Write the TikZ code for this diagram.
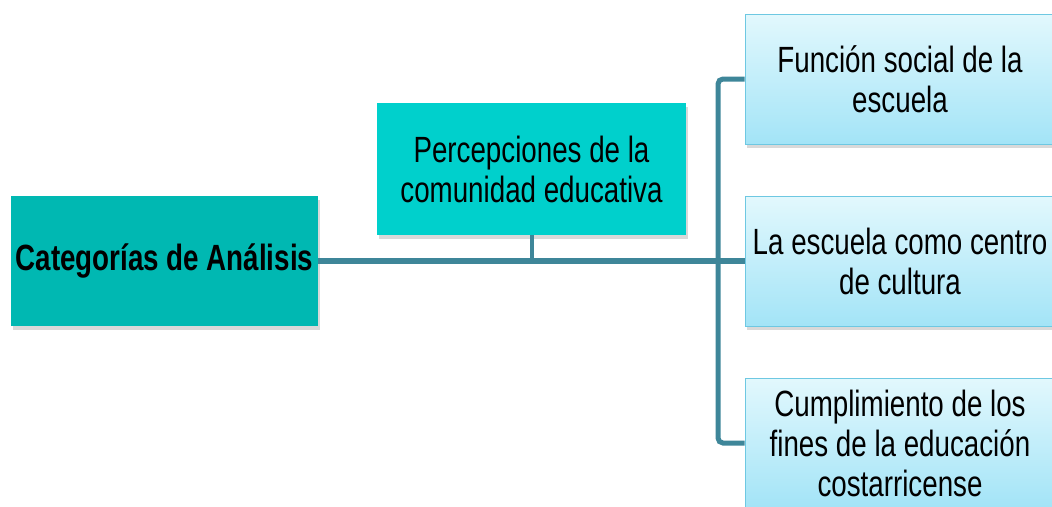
\documentclass[tikz,border=0pt]{standalone}
\usepackage{fontspec}
\setmainfont{Liberation Sans}[FakeStretch=0.76]
\usepackage{xcolor}
\usetikzlibrary{positioning,shadows}

\definecolor{tealdark}{RGB}{0,184,178}
\definecolor{tealbright}{RGB}{0,208,204}
\definecolor{skytop}{RGB}{226,248,253}
\definecolor{skybottom}{RGB}{163,228,247}
\definecolor{skyline}{RGB}{110,200,226}
\definecolor{busblue}{RGB}{62,134,153}

\begin{document}
\begin{tikzpicture}[
        x = 1pt,
        y = -1pt,
        node distance = 182pt,
        box/.style = {rectangle, inner sep=0pt, align=center,
            font=\fontsize{36.5}{40}\selectfont,
            drop shadow={shadow xshift=2pt, shadow yshift=-4pt, opacity=0.3}},
        catbox/.style = {box, fill=tealdark, minimum width=307pt, minimum height=130pt,
            font=\fontsize{36.5}{40}\selectfont\bfseries},
        percbox/.style = {box, fill=tealbright, minimum width=309pt, minimum height=132pt},
        itembox/.style = {box, draw=skyline, line width=1pt, top color=skytop,
            bottom color=skybottom, minimum width=310pt, minimum height=130pt},
        bus/.style = {draw=busblue, line width=5pt, rounded corners=5pt}]

        \clip (0,0) rectangle (1052,506);

        % NODES
        \node[catbox] (cat) at (164.5,261) {Categorías de Análisis};
        \node[percbox] (perc) at (531.5,169) {Percepciones de la\\comunidad educativa};

        % branches
        \node[itembox, right of = cat, node distance = 735.5pt] (esc) {La escuela como centro\\de cultura};
        \node[itembox, above of = esc] (fun) {Función social de la\\escuela};
        \node[itembox, below of = esc] (cum) {Cumplimiento de los\\fines de la educación\\costarricense};

        \coordinate (trunk) at (718,261);

        % LINES
        \draw[bus, line width=6pt] (cat.east)--(esc.west);
        \draw[bus, line width=4pt] (perc.south)--(perc.south |- cat.east);
        \draw[bus] (fun.west) -| (trunk) |- (cum.west);
\end{tikzpicture}
\end{document}
